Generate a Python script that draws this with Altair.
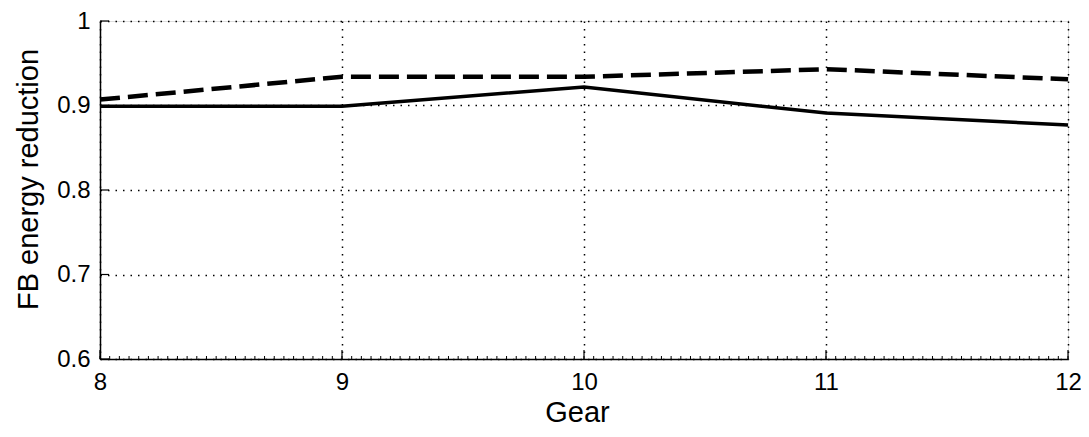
import altair as alt
import pandas as pd

# Data
gears = [8, 9, 10, 11, 12]
solid_vals = [0.899, 0.899, 0.922, 0.891, 0.877]
dashed_vals = [0.907, 0.934, 0.934, 0.943, 0.931]

x_ticks = [8, 9, 10, 11, 12]
y_ticks = [0.6, 0.7, 0.8, 0.9, 1.0]
x_minor = [round(8 + i * 0.04, 4) for i in range(101)]

W, H = 968, 338
FONT = "Liberation Sans"

df = pd.DataFrame({
    "gear": gears * 2,
    "value": solid_vals + dashed_vals,
    "series": ["solid"] * len(gears) + ["dashed"] * len(gears),
})

xscale = alt.Scale(domain=[8, 12], nice=False, zero=False)
yscale = alt.Scale(domain=[0.6, 1.0], nice=False, zero=False)

xaxis = alt.Axis(
    values=x_ticks, format="d", grid=True, gridDash=[1.5, 6], gridColor="black",
    gridWidth=1.5, gridOpacity=1, domainColor="black", domainWidth=1.5,
    ticks=False, tickSize=0,
    labelFont=FONT, labelFontSize=24, labelColor="black", labelPadding=11,
    labelFlush=False, labelOverlap=False,
    title="Gear", titleFont=FONT, titleFontSize=29, titleFontWeight="normal",
    titleColor="black", titleX=477, titleY=62, titleBaseline="alphabetic",
    titleAlign="center",
)
yaxis = alt.Axis(
    values=y_ticks, format=".1~f", grid=True, gridDash=[1.5, 6], gridColor="black",
    gridWidth=1.5, gridOpacity=1, domainColor="black", domainWidth=1.5,
    ticks=False, tickSize=0,
    labelFont=FONT, labelFontSize=24, labelColor="black", labelPadding=10,
    labelFlush=False, labelOverlap=False,
    title="FB energy reduction", titleFont=FONT, titleFontSize=29,
    titleFontWeight="normal", titleColor="black", titleX=-63, titleY=158,
    titleAngle=270, titleBaseline="alphabetic", titleAlign="center",
)

base = alt.Chart(df)

solid = base.transform_filter(alt.datum.series == "solid").mark_line(
    color="black", strokeWidth=3.5, strokeCap="butt"
).encode(
    x=alt.X("gear:Q", scale=xscale, axis=xaxis),
    y=alt.Y("value:Q", scale=yscale, axis=yaxis),
)

dashed = base.transform_filter(alt.datum.series == "dashed").mark_line(
    color="black", strokeWidth=4.5, strokeDash=[20, 8], strokeCap="butt"
).encode(
    x=alt.X("gear:Q", scale=xscale),
    y=alt.Y("value:Q", scale=yscale),
)

minor_df = pd.DataFrame({"t": x_minor})
minor = alt.Chart(minor_df).mark_rule(color="black", strokeWidth=1).encode(
    x=alt.X("t:Q", scale=xscale),
    y=alt.value(H),
    y2=alt.value(H - 3),
)

xmaj_df = pd.DataFrame({"t": x_ticks})
xmaj = alt.Chart(xmaj_df).mark_rule(color="black", strokeWidth=1.2).encode(
    x=alt.X("t:Q", scale=xscale),
    y=alt.value(H),
    y2=alt.value(H - 9),
)

ymaj_df = pd.DataFrame({"v": y_ticks})
ymaj = alt.Chart(ymaj_df).mark_rule(color="black", strokeWidth=1.2).encode(
    y=alt.Y("v:Q", scale=yscale),
    x=alt.value(0),
    x2=alt.value(9),
)

chart = alt.layer(solid, dashed, minor, xmaj, ymaj).properties(
    width=W, height=H,
    autosize=alt.AutoSizeParams(type="none"),
    padding={"left": 92, "top": 13, "right": 13, "bottom": 70},
).configure_view(stroke=None).configure(background="white")

chart.save("out.html", embed_options={"renderer": "svg", "actions": False})
